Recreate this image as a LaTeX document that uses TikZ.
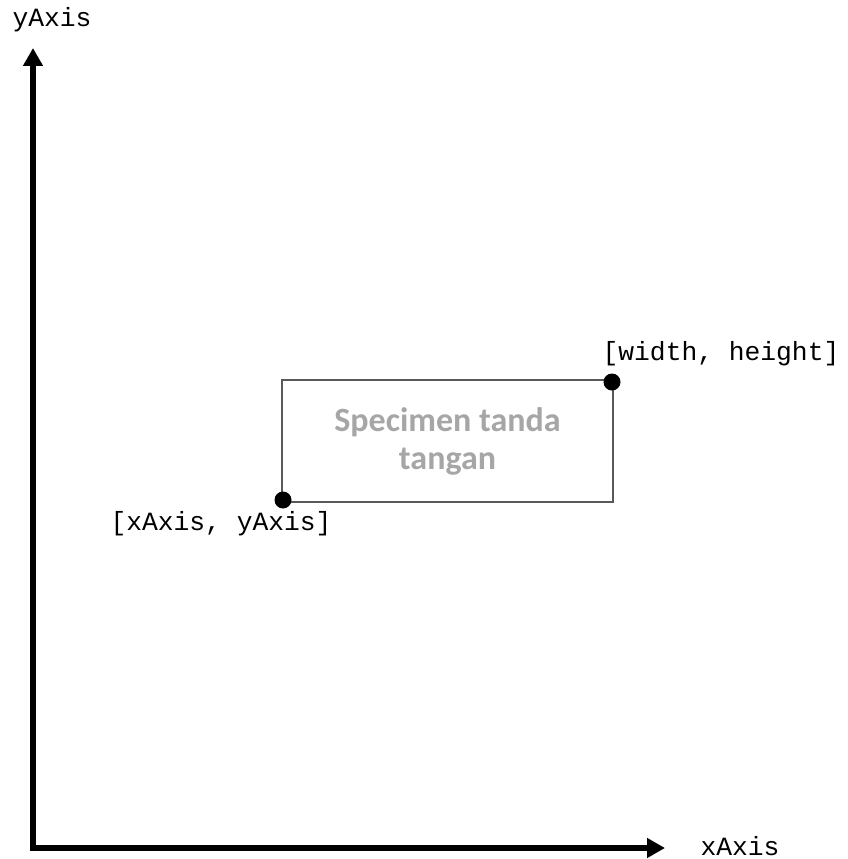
\documentclass[tikz,border=0pt]{standalone}
\usepackage{fontspec}
\setmonofont{Liberation Mono}
\newfontfamily\specfont{Carlito}
\usetikzlibrary{arrows.meta}
\definecolor{boxgray}{HTML}{595959}
\definecolor{txtgray}{HTML}{A6A6A6}
\tikzset{
  axisline/.style={line width=6pt, -{Triangle[length=18pt,width=19pt]}},
  lbl/.style={font=\ttfamily\fontsize{26.3}{30}\selectfont, inner sep=0pt},
  pt/.style={circle, fill=black, inner sep=0pt, minimum size=17pt},
  specbox/.style={draw=boxgray, line width=1.6pt}
}
\begin{document}
\begin{tikzpicture}[x=1pt,y=-1pt]
\useasboundingbox (0,0) rectangle (847,859);
\coordinate (origin) at (33,848);
\coordinate (ytip) at (33,48);
\coordinate (xtip) at (665,848);
\draw[axisline] ([yshift=3pt]origin) -- (ytip);
\draw[axisline] ([xshift=-3pt]origin) -- (xtip);
\node[lbl] (ylbl) at (52,20) {yAxis};
\node[lbl] (xlbl) at (740,846) {xAxis};
\node[specbox, minimum width=331pt, minimum height=122pt, inner sep=0pt,
  align=center, text=txtgray, font=\specfont\bfseries\fontsize{34}{38}\selectfont]
  (box) at (447.5,441) {Specimen tanda\\tangan};
\node[pt] (p1) at (283,500) {};
\node[pt] (p2) at (612,382) {};
\node[lbl] (l1) at (221,524) {[xAxis, yAxis]};
\node[lbl] (l2) at (721,354) {[width, height]};
\end{tikzpicture}
\end{document}
